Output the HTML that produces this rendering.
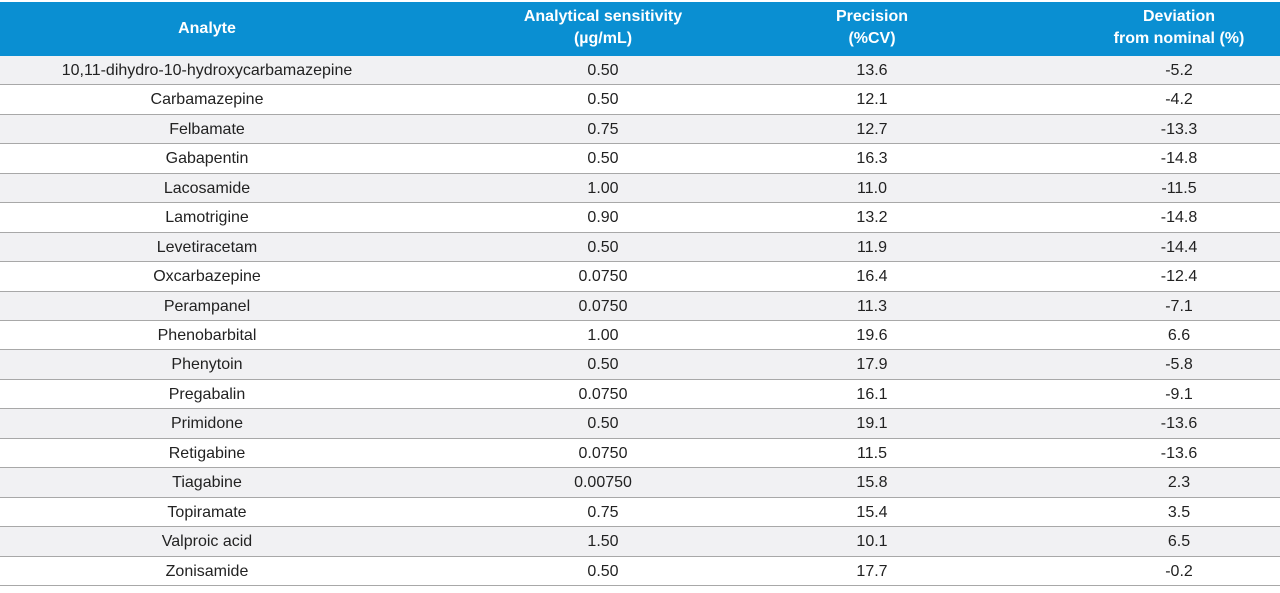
<!DOCTYPE html>
<html><head><meta charset="utf-8"><style>
body{margin:0;width:1280px;height:593px;background:#fff;overflow:hidden;font-family:"Liberation Sans",sans-serif;}
#t{position:absolute;left:0;top:0;width:1280px;height:593px;}
.hdr{position:absolute;left:0;top:2px;width:1280px;height:54px;background:#0a8fd2;}
.h{position:absolute;color:#fff;font-weight:bold;font-size:16px;text-align:center;line-height:22px;}
.row{position:absolute;left:0;width:1280px;border-bottom:1.5px solid #a8a8a8;box-sizing:border-box;}
.c{position:absolute;font-size:16px;color:#222;text-align:center;transform:translateX(-50%);white-space:nowrap;}
</style></head><body>
<div id="t">
<div class="hdr">
<div class="h" style="left:107px;width:200px;top:16px">Analyte</div>
<div class="h" style="left:453px;width:300px;top:4px">Analytical sensitivity<br>(µg/mL)</div>
<div class="h" style="left:772px;width:200px;top:4px">Precision<br>(%CV)</div>
<div class="h" style="left:1079px;width:200px;top:4px">Deviation<br>from nominal (%)</div>
</div>
</div>
<script>
const analytes=["10,11-dihydro-10-hydroxycarbamazepine","Carbamazepine","Felbamate","Gabapentin","Lacosamide","Lamotrigine","Levetiracetam","Oxcarbazepine","Perampanel","Phenobarbital","Phenytoin","Pregabalin","Primidone","Retigabine","Tiagabine","Topiramate","Valproic acid","Zonisamide"];
const sensitivity=["0.50","0.50","0.75","0.50","1.00","0.90","0.50","0.0750","0.0750","1.00","0.50","0.0750","0.50","0.0750","0.00750","0.75","1.50","0.50"];
const precision=["13.6","12.1","12.7","16.3","11.0","13.2","11.9","16.4","11.3","19.6","17.9","16.1","19.1","11.5","15.8","15.4","10.1","17.7"];
const deviation=["-5.2","-4.2","-13.3","-14.8","-11.5","-14.8","-14.4","-12.4","-7.1","6.6","-5.8","-9.1","-13.6","-13.6","2.3","3.5","6.5","-0.2"];
const t=document.getElementById('t');
const top0=56,rh=(586-56)/18,cx=[207,603,872,1179];
analytes.forEach((a,i)=>{
  const r=document.createElement('div');
  r.className='row';
  
  
  r.style.top=(top0+i*rh)+'px';r.style.height=rh+'px';
  r.style.background=i%2===0?'#f1f1f3':'#fff';
  [a,sensitivity[i],precision[i],deviation[i]].forEach((v,j)=>{
    const c=document.createElement('div');
    c.className='c';
    
    
    c.style.left=cx[j]+'px';c.style.top='6px';
    c.textContent=v;r.appendChild(c);
  });
  t.appendChild(r);
});
</script>
</body></html>
